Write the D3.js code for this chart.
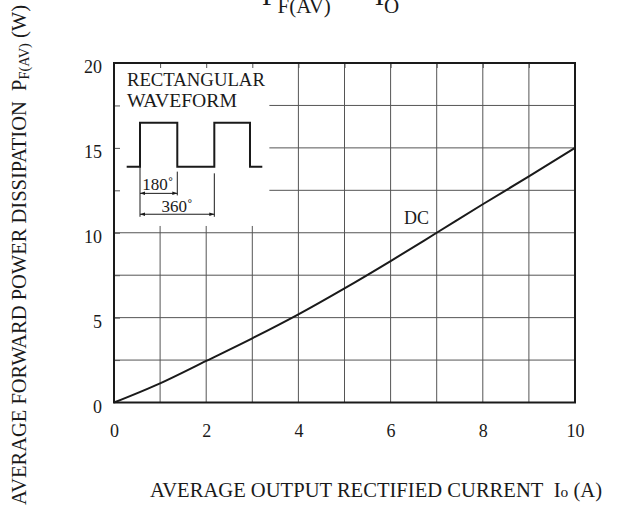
<!DOCTYPE html>
<html>
<head>
<meta charset="utf-8">
<script src="https://cdn.jsdelivr.net/npm/d3@7"></script>
<style>
  body { margin: 0; background: #fff; }
  text { font-family: "Liberation Serif", "Times New Roman", serif; fill: #1a1a1a; }
</style>
</head>
<body>
<div id="chart"></div>
<script>
// DC curve
const current = [0, 1, 2, 3, 4, 5, 6, 7, 8, 9, 10]
const dissipation = [0, 1.13, 2.45, 3.78, 5.19, 6.72, 8.33, 10.0, 11.68, 13.32, 15.0]

const xTicks = [0, 2, 4, 6, 8, 10]
const yTicks = [0, 5, 10, 15, 20]
const xGrid = [1, 2, 3, 4, 5, 6, 7, 8, 9]
const yGrid = [2.5, 5, 7.5, 10, 12.5, 15, 17.5]

// inset sketch, in axis units
const waveX = [0.275, 0.564, 0.564, 1.373, 1.373, 2.176, 2.176, 2.95, 2.95, 3.217]
const waveY = [13.89, 13.89, 16.48, 16.48, 13.89, 13.89, 16.48, 16.48, 13.89, 13.89]

const width = 618
const height = 508
const margin = { top: 63, right: 43, bottom: 105.5, left: 114 }
const innerW = width - margin.left - margin.right
const innerH = height - margin.top - margin.bottom

const svg = d3.select('#chart').append('svg').attr('width', width).attr('height', height)
const plot = svg.append('g').attr('transform', `translate(${margin.left}, ${margin.top})`)

const x = d3.scaleLinear().domain([0, 10]).range([0, innerW])
const y = d3.scaleLinear().domain([0, 20]).range([innerH, 0])

// grid
plot.append('g').selectAll('line').data(xGrid).enter().append('line')
  .attr('x1', d => x(d)).attr('x2', d => x(d)).attr('y1', 0).attr('y2', innerH)
  .attr('stroke', '#555').attr('stroke-width', 1)
plot.append('g').selectAll('line').data(yGrid).enter().append('line')
  .attr('x1', 0).attr('x2', innerW).attr('y1', d => y(d)).attr('y2', d => y(d))
  .attr('stroke', '#555').attr('stroke-width', 1)

// white area behind the inset
plot.append('rect')
  .attr('x', 0).attr('y', 0)
  .attr('width', x(3.37)).attr('height', y(10.4))
  .attr('fill', '#fff')

// short inner ticks on top and left edges
const topTicks = d3.axisTop(x).tickValues(xGrid).tickSize(-5).tickFormat('')
const leftTicks = d3.axisLeft(y).tickValues(yGrid).tickSize(-6).tickFormat('')
plot.append('g').call(topTicks).call(g => g.select('.domain').remove())
  .selectAll('line').attr('stroke', '#555')
plot.append('g').call(leftTicks).call(g => g.select('.domain').remove())
  .selectAll('line').attr('stroke', '#555')

// frame
plot.append('rect')
  .attr('width', innerW).attr('height', innerH)
  .attr('fill', 'none').attr('stroke', '#1a1a1a').attr('stroke-width', 2)

// axes labels
const xAxis = d3.axisBottom(x).tickValues(xTicks).tickSize(0).tickPadding(22)
const yAxis = d3.axisLeft(y).tickValues(yTicks).tickSize(0).tickPadding(12)
const xAxisGroup = plot.append('g').attr('transform', `translate(0, ${innerH})`).call(xAxis)
const yAxisGroup = plot.append('g').call(yAxis)
xAxisGroup.select('.domain').remove()
yAxisGroup.select('.domain').remove()
svg.selectAll('.tick text')
  .attr('font-family', '"Liberation Serif", serif')
  .attr('font-size', 18)
  .attr('fill', '#1a1a1a')
yAxisGroup.selectAll('.tick text').attr('dy', '0.55em')

// DC curve
const line = d3.line()
  .x((d, i) => x(current[i]))
  .y(d => y(d))
  .curve(d3.curveMonotoneX)
plot.append('path').datum(dissipation)
  .attr('d', line)
  .attr('fill', 'none').attr('stroke', '#1a1a1a').attr('stroke-width', 2)

plot.append('text').attr('x', x(6.29)).attr('y', y(10.5)).attr('font-size', 18).text('DC')

// inset
const inset = plot.append('g')
inset.append('text').attr('x', x(0.28)).attr('y', y(18.65)).attr('font-size', 18)
  .attr('textLength', 138).attr('lengthAdjust', 'spacingAndGlyphs').text('RECTANGULAR')
inset.append('text').attr('x', x(0.28)).attr('y', y(17.4)).attr('font-size', 18)
  .attr('textLength', 110).attr('lengthAdjust', 'spacingAndGlyphs').text('WAVEFORM')

const wave = d3.line().x((d, i) => x(waveX[i])).y(d => y(d))
inset.append('path').datum(waveY).attr('d', wave)
  .attr('fill', 'none').attr('stroke', '#1a1a1a').attr('stroke-width', 2)

svg.append('defs').append('marker')
  .attr('id', 'arrow').attr('viewBox', '0 0 10 10').attr('refX', 10).attr('refY', 5)
  .attr('markerWidth', 8).attr('markerHeight', 5).attr('orient', 'auto-start-reverse')
  .attr('markerUnits', 'userSpaceOnUse')
  .append('path').attr('d', 'M0,1.5 L10,5 L0,8.5 Z').attr('fill', '#1a1a1a')

const dims = [
  { x1: 0.564, x2: 0.564, y1: 13.89, y2: 10.94 },
  { x1: 1.373, x2: 1.373, y1: 13.6, y2: 12.2 },
  { x1: 2.176, x2: 2.176, y1: 13.5, y2: 10.94 },
]
inset.selectAll('.ext').data(dims).enter().append('line')
  .attr('x1', d => x(d.x1)).attr('x2', d => x(d.x2))
  .attr('y1', d => y(d.y1)).attr('y2', d => y(d.y2))
  .attr('stroke', '#1a1a1a').attr('stroke-width', 1)

const arrows = [
  { from: 0.564, to: 1.373, at: 12.32, label: '180˚', lx: 0.95, ly: 12.5 },
  { from: 0.564, to: 2.176, at: 11.09, label: '360˚', lx: 1.37, ly: 11.2 },
]
inset.selectAll('.dim').data(arrows).enter().append('line')
  .attr('x1', d => x(d.from)).attr('x2', d => x(d.to))
  .attr('y1', d => y(d.at)).attr('y2', d => y(d.at))
  .attr('stroke', '#1a1a1a').attr('stroke-width', 1)
  .attr('marker-start', 'url(#arrow)').attr('marker-end', 'url(#arrow)')
inset.selectAll('.dimlabel').data(arrows).enter().append('text')
  .attr('x', d => x(d.lx)).attr('y', d => y(d.ly))
  .attr('text-anchor', 'middle').attr('font-size', 17)
  .text(d => d.label)

// axis titles
const xTitle = svg.append('text').attr('x', 150).attr('y', 497).attr('font-size', 20)
xTitle.append('tspan').text('AVERAGE OUTPUT RECTIFIED CURRENT\u00a0\u00a0I')
xTitle.append('tspan').attr('font-size', 15).text('o')
xTitle.append('tspan').text(' (A)')
xTitle.attr('textLength', 452).attr('lengthAdjust', 'spacingAndGlyphs')

const yTitle = svg.append('text').attr('transform', 'translate(26, 505) rotate(-90)').attr('font-size', 20)
yTitle.append('tspan').text('AVERAGE FORWARD POWER DISSIPATION\u00a0\u00a0P')
yTitle.append('tspan').attr('font-size', 14).attr('dy', 3).text('F(AV)')
yTitle.append('tspan').attr('dy', -3).text(' (W)')
yTitle.attr('textLength', 500).attr('lengthAdjust', 'spacingAndGlyphs')

// chart title, mostly cropped at the top
const title = svg.append('text').attr('x', 262).attr('y', 5).attr('font-size', 28)
title.append('tspan').text('P')
title.append('tspan').attr('font-size', 21).attr('dy', 8).text('F(AV)')
title.append('tspan').attr('dy', -8).text('\u00a0\u00a0\u2212\u00a0\u00a0I')
title.append('tspan').attr('font-size', 21).attr('dy', 8).text('O')
</script>
</body>
</html>
